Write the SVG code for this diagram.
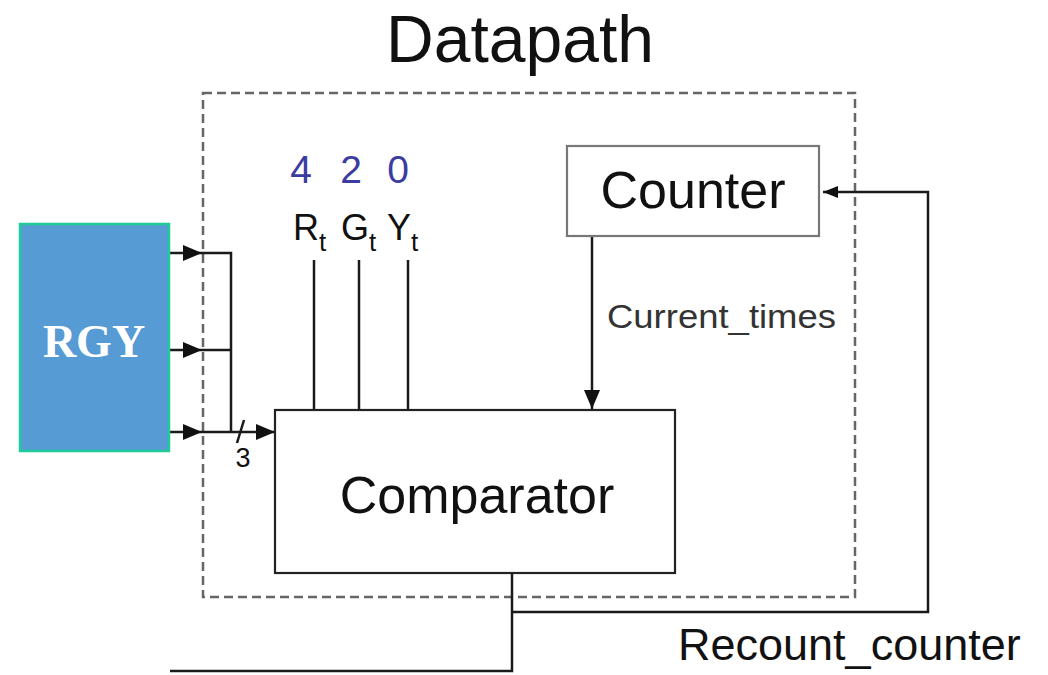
<svg xmlns="http://www.w3.org/2000/svg" width="1048" height="675" viewBox="0 0 1048 675">
<style>
.t{font-family:"Liberation Sans",Arial,sans-serif;fill:#111}
.n{font-family:"Liberation Sans",Arial,sans-serif;fill:#3c3ca0;font-size:39px}
.w{stroke:#1a1a1a;stroke-width:2.5;fill:none}
.box{fill:#fff;stroke:#222;stroke-width:2.2}
</style>
<defs>
<marker id="ah" markerUnits="userSpaceOnUse" markerWidth="20" markerHeight="18" viewBox="0 0 20 18" refX="19" refY="9" orient="auto">
<path d="M0,1 L19,9 L0,17 Z" fill="#111"/>
</marker>
<marker id="ahs" markerUnits="userSpaceOnUse" markerWidth="16" markerHeight="14" viewBox="0 0 16 14" refX="15" refY="7" orient="auto">
<path d="M0,1 L15,7 L0,13 Z" fill="#111"/>
</marker>
</defs>
<rect width="1048" height="675" fill="#fff"/>
<text class="t" x="520" y="62" font-size="66" text-anchor="middle">Datapath</text>
<g id="datapath">
<rect x="203" y="93" width="652" height="504" fill="none" stroke="#666" stroke-width="2.5" stroke-dasharray="9,5"/>
</g>
<g id="connectors">
<line class="w" x1="169" y1="253" x2="202" y2="253" marker-end="url(#ah)"/>
<line class="w" x1="169" y1="350" x2="202" y2="350" marker-end="url(#ah)"/>
<line class="w" x1="169" y1="432" x2="202" y2="432" marker-end="url(#ah)"/>
<polyline class="w" points="202,253 231,253 231,432"/>
<line class="w" x1="202" y1="350" x2="231" y2="350"/>
<line class="w" x1="202" y1="432" x2="275" y2="432" marker-end="url(#ah)"/>
<line class="w" x1="237" y1="443" x2="244" y2="420"/>
<text class="t" x="243" y="467" font-size="27" text-anchor="middle">3</text>
<line class="w" x1="314" y1="260" x2="314" y2="410"/>
<line class="w" x1="359" y1="260" x2="359" y2="410"/>
<line class="w" x1="408" y1="260" x2="408" y2="410"/>
<line class="w" x1="592" y1="237" x2="592" y2="409" marker-end="url(#ah)"/>
<polyline class="w" points="512,573 512,671 170,671"/>
<polyline class="w" points="512,612 928,612 928,192 823,192" marker-end="url(#ahs)"/>
</g>
<g id="rgy">
<rect x="20" y="224" width="149" height="227" fill="#579bd5" stroke="#1fcc98" stroke-width="2.5"/>
<text x="94" y="357" font-family="'Liberation Serif','Times New Roman',serif" font-weight="bold" font-size="46" fill="#fff" text-anchor="middle">RGY</text>
</g>
<g id="comparator">
<rect class="box" x="275" y="410" width="400" height="163"/>
<text class="t" x="477" y="513" font-size="52" text-anchor="middle">Comparator</text>
</g>
<g id="counter">
<rect x="567" y="146" width="252" height="90" fill="#fff" stroke="#777" stroke-width="2.2"/>
<text class="t" x="693" y="208" font-size="52" text-anchor="middle">Counter</text>
</g>
<g id="labels">
<text class="n" x="301" y="183" text-anchor="middle">4</text>
<text class="n" x="351" y="183" text-anchor="middle">2</text>
<text class="n" x="398" y="183" text-anchor="middle">0</text>
<text class="t" x="293" y="240" font-size="36">R<tspan font-size="26" dy="11">t</tspan></text>
<text class="t" x="341" y="240" font-size="36">G<tspan font-size="26" dy="11">t</tspan></text>
<text class="t" x="387" y="240" font-size="36">Y<tspan font-size="26" dy="11">t</tspan></text>
<text class="t" x="607" y="328" font-size="33" textLength="229" lengthAdjust="spacingAndGlyphs" style="fill:#333">Current_times</text>
<text class="t" x="678" y="660" font-size="45">Recount_counter</text>
</g>
</svg>
